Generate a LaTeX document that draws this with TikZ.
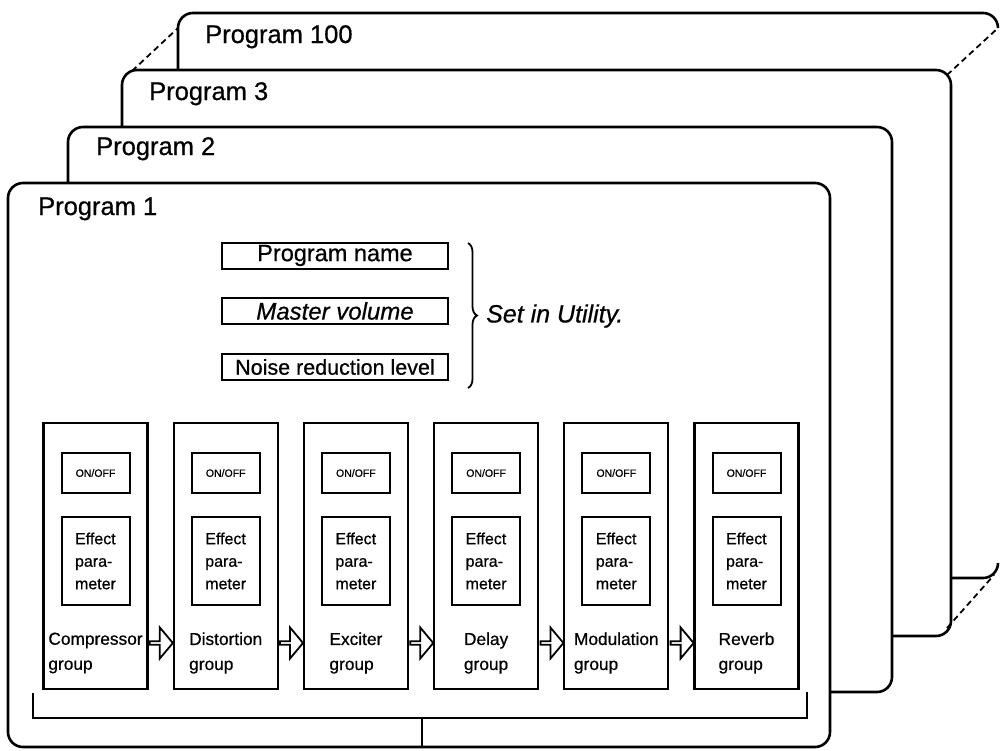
\documentclass[tikz,border=0pt]{standalone}
\usepackage{fontspec}
\setmainfont{Liberation Sans}[FakeBold=0.6]
\usetikzlibrary{positioning,shapes.arrows,decorations.pathreplacing}

\tikzset{
  panel/.style={draw,fill=white,line width=2.6pt,rounded corners=15pt,inner sep=0pt},
  title/.style={anchor=base west,inner sep=0pt,font=\fontsize{25.5}{30}\selectfont},
  infobox/.style={draw,line width=2pt,minimum width=226pt,minimum height=26pt,inner sep=0pt},
  groupbox/.style={draw,line width=2.2pt,minimum width=104pt,minimum height=266pt,inner sep=0pt},
  switchbox/.style={draw,line width=2pt,minimum width=68pt,minimum height=40pt,inner sep=0pt,font=\fontsize{10.5}{12}\selectfont},
  parambox/.style={draw,line width=2pt,minimum width=68pt,minimum height=88pt,inner sep=0pt,align=left,font=\fontsize{16}{22.5}\selectfont},
  grouplabel/.style={align=left,inner sep=0pt,font=\fontsize{17.3}{25}\selectfont},
  flowarrow/.style={single arrow,draw,fill=white,line width=1.8pt,minimum height=23pt,minimum width=31pt,
    single arrow head extend=7pt,single arrow tip angle=100,inner sep=0pt},
  stackline/.style={line width=1.8pt,dash pattern=on 6pt off 4pt},
}

\begin{document}
\begin{tikzpicture}[x=1pt,y=-1pt]
  \useasboundingbox (0,0) rectangle (1001,750);
  % last program, only its edges show
  \draw[line width=2.6pt,rounded corners=15pt] (178,80) -- (178,13) -- (998,13) -- (998,28);
  \draw[line width=2.6pt,rounded corners=15pt] (940,578) -- (998,578) -- (998,563);
  \node[panel,minimum width=829pt,minimum height=566pt] (prog3) at (536.5,353) {};
  \node[panel,minimum width=824pt,minimum height=565pt] (prog2) at (480,409.5) {};
  \node[panel,minimum width=822pt,minimum height=564pt] (prog1) at (419,465) {};
  \node[title] (t100) at (205,43) {Program 100};
  \node[title] (t3) at (149,100) {Program 3};
  \node[title] (t2) at (96,155) {Program 2};
  \node[title] (t1) at (38,215) {Program 1};
  % dashed edges of the stack
  \coordinate (c3tl) at (132,71);
  \coordinate (c100tl) at (178,28);
  \coordinate (c3tr) at (947,75);
  \coordinate (c100tr) at (998,28);
  \coordinate (c3br) at (947,628);
  \coordinate (c100br) at (994,575);
  \draw[stackline] (c3tl) -- (c100tl);
  \draw[stackline] (c3tr) -- (c100tr);
  \draw[stackline] (c3br) -- (c100br);

  \node[infobox,font=\fontsize{23.5}{26}\selectfont] (pname) at (335,255.5) {Program name};
  \node[infobox,font=\fontsize{24}{26}\selectfont\itshape] (mvol) at (335,311) {Master volume};
  \node[infobox,font=\fontsize{21.5}{26}\selectfont] (nrl) at (335,367) {Noise reduction level};
  \draw[line width=1.8pt,decorate,decoration={brace,amplitude=9pt}] (468,243) -- (468,388);
  \node[anchor=west,inner sep=0pt,font=\fontsize{25}{30}\selectfont\itshape] (util) at (486,316) {Set in Utility.};

  \foreach \gname [count=\i from 0] in {Compressor,Distortion,Exciter,Delay,Modulation,Reverb}{
    \pgfmathsetmacro{\gx}{95.5+130.2*\i}
    \node[groupbox] (grp\i) at (\gx,556) {};
    \node[switchbox] (sw\i) at (\gx,473) {ON/OFF};
    \node[parambox] (par\i) at (\gx,561) {Effect\\para-\\meter};
    \node[grouplabel] (lab\i) at (\gx,653) {\gname\\group};
  }
  \foreach \i in {0,...,4}{
    \pgfmathsetmacro{\ax}{160.6+130.2*\i}
    \node[flowarrow] (arr\i) at (\ax,643) {};
  }

  % bracket under the groups
  \coordinate (bkl) at (33,693);
  \coordinate (bkm) at (422,718);
  \coordinate (bkr) at (807,692);
  \draw[line width=2.2pt] (bkl) |- (bkm) -| (bkr);
  \draw[line width=1.8pt] (bkm) -- (bkm |- prog1.south);
\end{tikzpicture}
\end{document}
